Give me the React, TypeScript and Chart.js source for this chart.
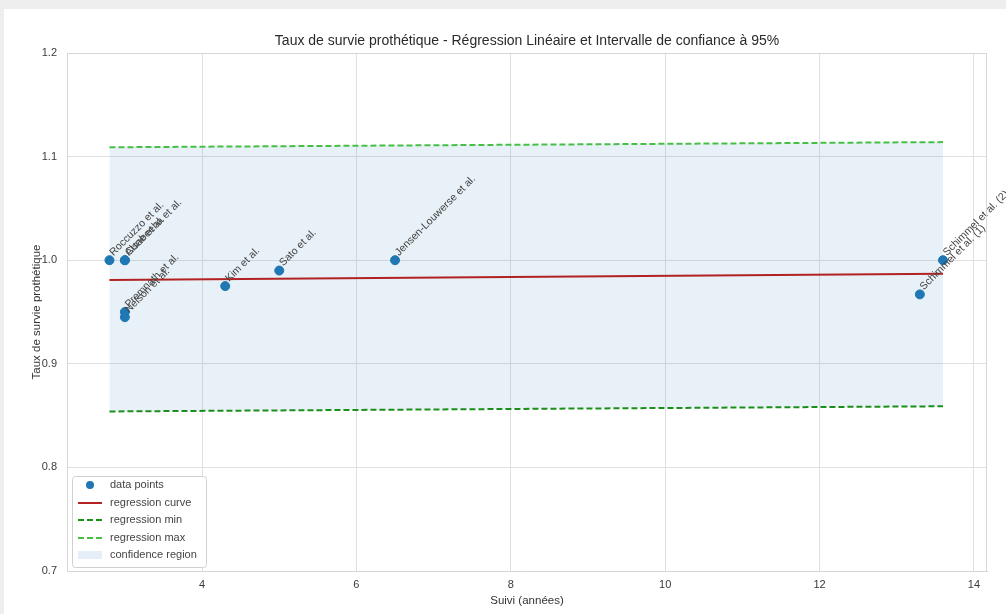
import React, { useEffect, useRef } from "react";
import { Chart, registerables } from "chart.js";

Chart.register(...registerables);

// ---- data ----
const studyNames = [
  "Roccuzzo et al.",
  "Alsabeeha et al.",
  "Cune et al.",
  "Premnath et al.",
  "Nelson et al.",
  "Kim et al.",
  "Sato et al.",
  "Jensen-Louwerse et al.",
  "Schimmel et al. (2)",
  "Schimmel et al. (1)",
];
const followUpYears = [2.8, 3.0, 3.0, 3.0, 3.0, 4.3, 5.0, 6.5, 13.6, 13.3];
const survivalRates = [1.0, 1.0, 1.0, 0.95, 0.945, 0.975, 0.99, 1.0, 1.0, 0.967];

const regressionX = [2.8, 13.6];
const regressionCurve = [0.981, 0.987];
const regressionMin = [0.854, 0.859];
const regressionMax = [1.109, 1.114];

const xTicks = [4, 6, 8, 10, 12, 14];
const yTicks = [0.7, 0.8, 0.9, 1.0, 1.1, 1.2];

const seriesLabels = [
  "data points",
  "regression curve",
  "regression min",
  "regression max",
  "confidence region",
];

const chartTitle =
  "Taux de survie prothétique - Régression Linéaire et Intervalle de confiance à 95%";
const xAxisTitle = "Suivi (années)";
const yAxisTitle = "Taux de survie prothétique";

const FONT = "'Liberation Sans', Arial, sans-serif";

const toXY = (xs: number[], ys: number[]) => xs.map((x, i) => ({ x, y: ys[i] }));

const decorPlugin = {
  id: "decor",
  beforeDraw(chart: any) {
    const { ctx, width, height } = chart;
    ctx.save();
    ctx.fillStyle = "#eeeeee";
    ctx.fillRect(0, 0, width, height);
    ctx.fillStyle = "#ffffff";
    ctx.fillRect(4, 9, width - 4, height - 9);
    ctx.restore();
  },
  afterDatasetsDraw(chart: any) {
    const { ctx, scales } = chart;
    ctx.save();
    ctx.fillStyle = "#444444";
    ctx.font = `10.5px ${FONT}`;
    ctx.textAlign = "left";
    ctx.textBaseline = "alphabetic";
    studyNames.forEach((name, i) => {
      const px = scales.x.getPixelForValue(followUpYears[i]);
      const py = scales.y.getPixelForValue(survivalRates[i]);
      ctx.save();
      ctx.translate(px + 4, py - 4);
      ctx.rotate(-Math.PI / 4);
      ctx.fillText(name, 0, 0);
      ctx.restore();
    });
    ctx.restore();
  },
  afterDraw(chart: any) {
    const { ctx, chartArea } = chart;
    const { left, right, top, bottom } = chartArea;
    ctx.save();
    // top & right spines
    ctx.strokeStyle = "#d6d6d6";
    ctx.lineWidth = 1;
    ctx.beginPath();
    ctx.moveTo(left, top + 0.5);
    ctx.lineTo(right, top + 0.5);
    ctx.moveTo(right - 0.5, top);
    ctx.lineTo(right - 0.5, bottom);
    ctx.stroke();

    // title
    ctx.fillStyle = "#2a2a2a";
    ctx.textAlign = "center";
    ctx.textBaseline = "middle";
    ctx.font = `14px ${FONT}`;
    ctx.fillText(chartTitle, (left + right) / 2, 41);

    // axis titles
    ctx.font = `11.5px ${FONT}`;
    ctx.fillStyle = "#333333";
    ctx.fillText(xAxisTitle, (left + right) / 2, 601);
    ctx.save();
    ctx.translate(37, (top + bottom) / 2);
    ctx.rotate(-Math.PI / 2);
    ctx.fillText(yAxisTitle, 0, 0);
    ctx.restore();

    // legend
    const lx = 72, ly = 476, lw = 134, lh = 91;
    ctx.beginPath();
    if ((ctx as any).roundRect) (ctx as any).roundRect(lx + 0.5, ly + 0.5, lw, lh, 3);
    else ctx.rect(lx + 0.5, ly + 0.5, lw, lh);
    ctx.fillStyle = "rgba(255,255,255,0.85)";
    ctx.fill();
    ctx.strokeStyle = "#d0d0d0";
    ctx.stroke();

    const rowsY = [485, 503, 520, 538, 555];
    const ds = chart.data.datasets;
    ctx.font = `11px ${FONT}`;
    ctx.textAlign = "left";
    ctx.textBaseline = "middle";
    ds.forEach((d: any, i: number) => {
      const y = rowsY[i];
      if (i === 0) {
        ctx.beginPath();
        ctx.fillStyle = d.backgroundColor;
        ctx.arc(90, y, 4, 0, Math.PI * 2);
        ctx.fill();
      } else if (i === 4) {
        ctx.fillStyle = "#e6eef7";
        ctx.fillRect(78, y - 4, 24, 8);
      } else {
        ctx.beginPath();
        ctx.strokeStyle = d.borderColor;
        ctx.lineWidth = 2;
        ctx.setLineDash(d.borderDash || []);
        ctx.moveTo(78, y);
        ctx.lineTo(102, y);
        ctx.stroke();
        ctx.setLineDash([]);
      }
      ctx.fillStyle = "#444444";
      ctx.fillText(d.label, 110, y);
    });
    ctx.restore();
  },
};

export default function App() {
  const canvasRef = useRef<HTMLCanvasElement | null>(null);

  useEffect(() => {
    document.body.style.margin = "0";
    const canvas = canvasRef.current;
    if (!canvas) return;
    const chart = new Chart(canvas, {
      type: "scatter",
      data: {
        datasets: [
          {
            label: seriesLabels[0],
            data: toXY(followUpYears, survivalRates),
            backgroundColor: "#1f77b4",
            borderColor: "#1f77b4",
            pointRadius: 4.5,
            pointHoverRadius: 4.5,
            showLine: false,
            order: 0,
          },
          {
            label: seriesLabels[1],
            data: toXY(regressionX, regressionCurve),
            borderColor: "#b22222",
            backgroundColor: "#b22222",
            borderWidth: 2,
            pointRadius: 0,
            showLine: true,
            order: 1,
          },
          {
            label: seriesLabels[2],
            data: toXY(regressionX, regressionMin),
            borderColor: "#1a8f1a",
            backgroundColor: "#1a8f1a",
            borderWidth: 2,
            borderDash: [6, 3],
            pointRadius: 0,
            showLine: true,
            order: 2,
          },
          {
            label: seriesLabels[3],
            data: toXY(regressionX, regressionMax),
            borderColor: "#45c045",
            backgroundColor: "#45c045",
            borderWidth: 2,
            borderDash: [6, 3],
            pointRadius: 0,
            showLine: true,
            order: 3,
          },
          {
            label: seriesLabels[4],
            data: toXY(regressionX, regressionMax),
            borderColor: "rgba(0,0,0,0)",
            backgroundColor: "rgba(31,119,180,0.1)",
            borderWidth: 0,
            pointRadius: 0,
            showLine: true,
            fill: 2,
            order: 10,
          },
        ],
      },
      options: {
        animation: false,
        responsive: false,
        devicePixelRatio: 1,
        layout: { padding: { left: 0, top: 53, right: 19, bottom: 0 } },
        plugins: {
          legend: { display: false },
          title: { display: false },
          tooltip: { enabled: false },
        },
        scales: {
          x: {
            type: "linear",
            min: 2.25,
            max: 14.17,
            afterBuildTicks: (scale: any) => {
              scale.ticks = xTicks.map((v) => ({ value: v }));
            },
            afterFit: (scale: any) => {
              scale.height = 43;
            },
            grid: { color: "#e0e0e0", lineWidth: 1, drawTicks: false },
            border: { display: true, color: "#d6d6d6" },
            ticks: {
              padding: 7,
              color: "#3a3a3a",
              font: { family: FONT, size: 11 },
              callback: (v: any) => String(v),
            },
          },
          y: {
            type: "linear",
            min: 0.7,
            max: 1.2,
            afterBuildTicks: (scale: any) => {
              scale.ticks = yTicks.map((v) => ({ value: v }));
            },
            afterFit: (scale: any) => {
              scale.width = 67;
            },
            grid: { color: "#e0e0e0", lineWidth: 1, drawTicks: false },
            border: { display: true, color: "#d6d6d6" },
            ticks: {
              padding: 10,
              color: "#3a3a3a",
              font: { family: FONT, size: 11 },
              callback: (v: any) => Number(v).toFixed(1),
            },
          },
        },
      },
      plugins: [decorPlugin],
    } as any);
    return () => chart.destroy();
  }, []);

  return (
    <div style={{ width: 1006, height: 614 }}>
      <canvas ref={canvasRef} width={1006} height={614} style={{ display: "block" }} />
    </div>
  );
}
